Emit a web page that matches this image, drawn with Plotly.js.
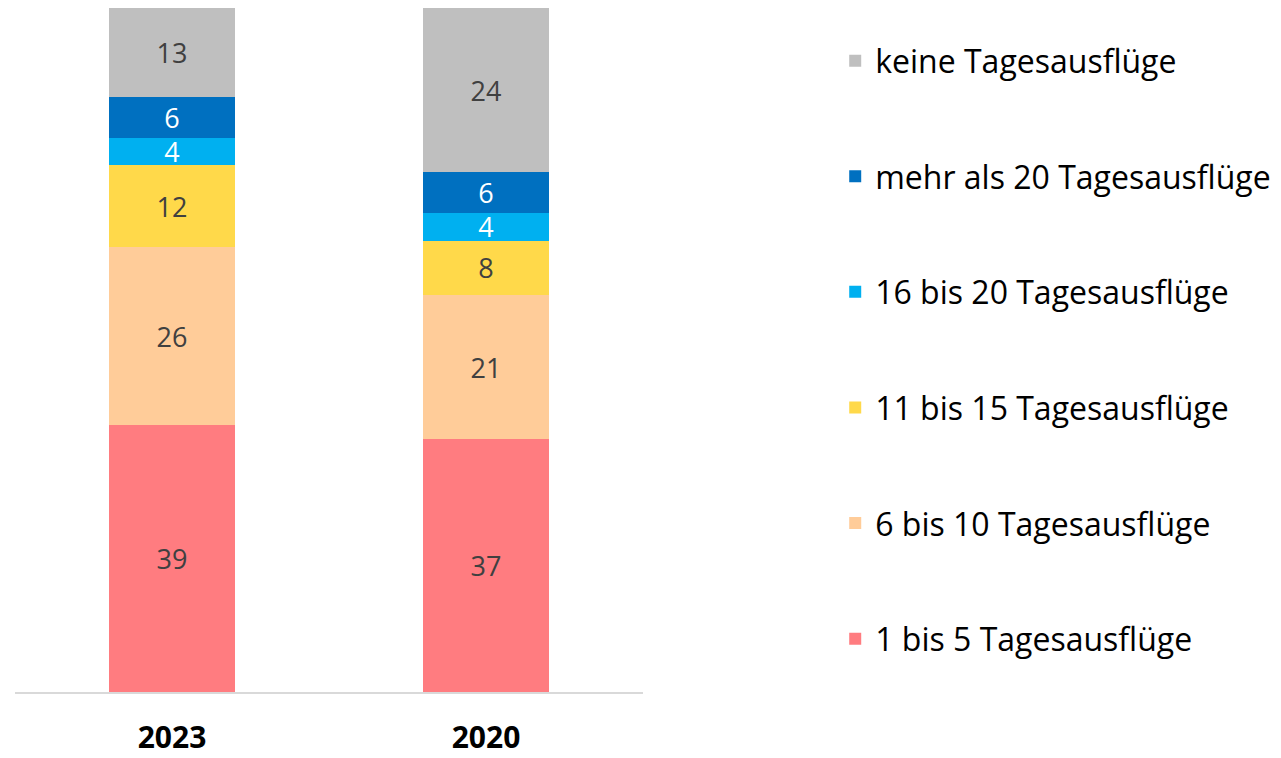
<!DOCTYPE html>
<html><head><meta charset="utf-8">
<script src="https://cdn.plot.ly/plotly-3.0.1.min.js"></script>
<style>html,body{margin:0;padding:0;background:#fff}#chart{width:1281px;height:758px}</style>
</head><body><div id="chart"></div>
<script>
const years = ["2023", "2020"];
const seriesNames = ["1 bis 5 Tagesausflüge", "6 bis 10 Tagesausflüge", "11 bis 15 Tagesausflüge", "16 bis 20 Tagesausflüge", "mehr als 20 Tagesausflüge", "keine Tagesausflüge"];
const v1bis5 = [39, 37];
const v6bis10 = [26, 21];
const v11bis15 = [12, 8];
const v16bis20 = [4, 4];
const vMehr20 = [6, 6];
const vKeine = [13, 24];
const colors = ["#FF7C80", "#FFCC99", "#FFD94A", "#00B0F0", "#0070C0", "#BFBFBF"];
const labelColors = ["#404040", "#404040", "#404040", "#FFFFFF", "#FFFFFF", "#404040"];
const allValues = [v1bis5, v6bis10, v11bis15, v16bis20, vMehr20, vKeine];
const FONT = "Open Sans, sans-serif";

const traces = allValues.map((vals, i) => ({
  type: "bar",
  name: seriesNames[i],
  x: years,
  y: vals,
  marker: {color: colors[i], line: {width: 0}},
  text: vals.map(String),
  textposition: "inside",
  insidetextanchor: "middle",
  textangle: 0,
  constraintext: "none",
  textfont: {family: FONT, size: 27, color: labelColors[i]},
  legendgroup: "g" + i,
  legendrank: allValues.length - i,
  hoverinfo: "skip"
}));

const layout = {
  width: 1281, height: 758,
  margin: {l: 15, r: 638, t: 8, b: 66},
  paper_bgcolor: "#fff", plot_bgcolor: "#fff",
  barmode: "stack",
  bargap: 0.6,
  font: {family: FONT, color: "#000"},
  xaxis: {
    type: "category",
    showline: true, linecolor: "#D9D9D9", linewidth: 2,
    ticks: "outside", ticklen: 18, tickcolor: "rgba(0,0,0,0)",
    tickfont: {family: FONT, size: 30, color: "#000", weight: "bold"},
    showgrid: false, zeroline: false
  },
  yaxis: {range: [0, 100], visible: false, showgrid: false, zeroline: false},
  showlegend: true,
  legend: {
    xref: "container", yref: "container",
    x: 0.652, y: 0.956, xanchor: "left", yanchor: "top",
    traceorder: "grouped",
    tracegroupgap: 71,
    maxheight: 758,
    font: {family: FONT, size: 32, color: "#000"},
    bgcolor: "rgba(0,0,0,0)", borderwidth: 0
  }
};

Plotly.newPlot("chart", traces, layout, {displayModeBar: false, staticPlot: true});
</script>
</body></html>
